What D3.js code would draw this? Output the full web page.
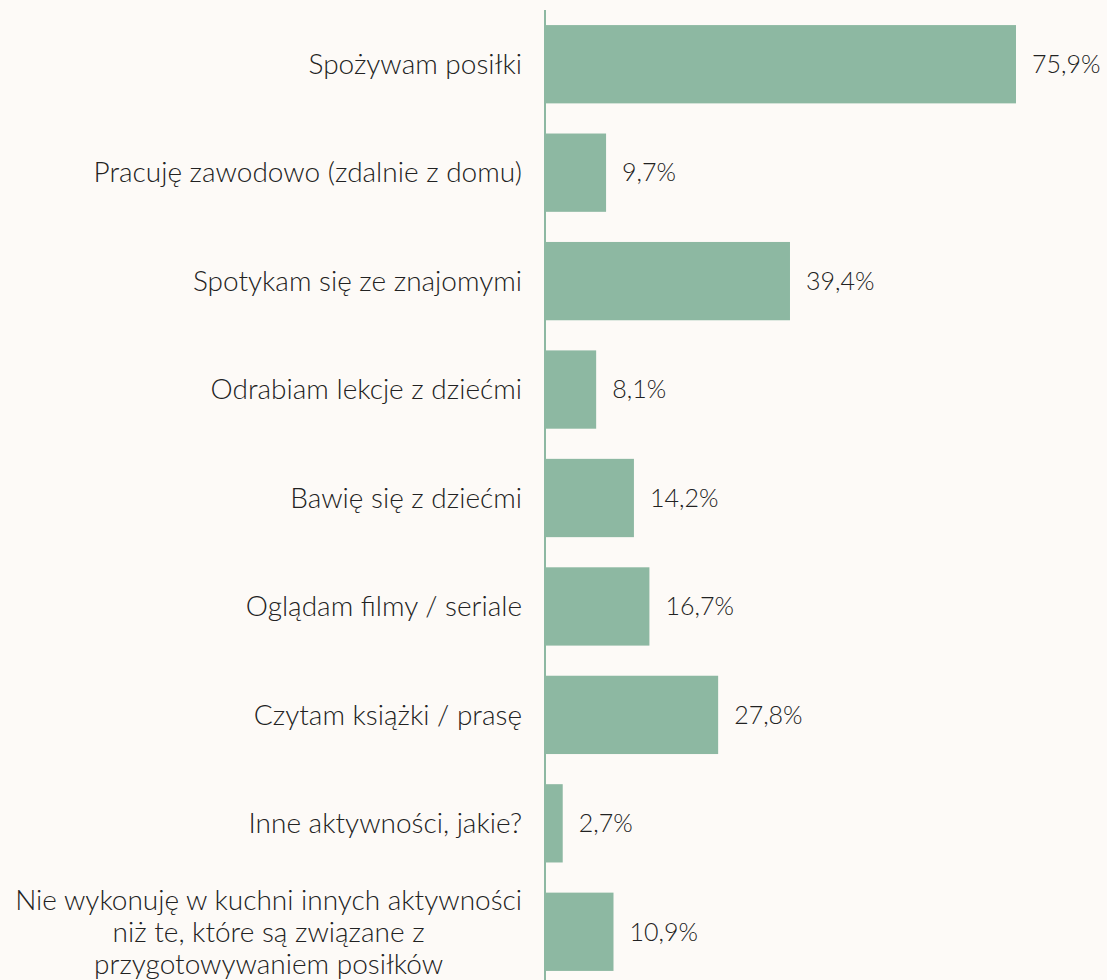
<!DOCTYPE html>
<html>
<head>
<meta charset="utf-8">
<script src="https://cdn.jsdelivr.net/npm/d3@7"></script>
<style>
  html, body { margin: 0; padding: 0; background: #fdfaf7; }
  svg { display: block; }
</style>
</head>
<body>
<div id="chart"></div>
<script>
// data
const categories = [
  ['Spożywam posiłki'],
  ['Pracuję zawodowo (zdalnie z domu)'],
  ['Spotykam się ze znajomymi'],
  ['Odrabiam lekcje z dziećmi'],
  ['Bawię się z dziećmi'],
  ['Oglądam filmy / seriale'],
  ['Czytam książki / prasę'],
  ['Inne aktywności, jakie?'],
  ['Nie wykonuję w kuchni innych aktywności', 'niż te, które są związane z', 'przygotowywaniem posiłków']
];
const values = [75.9, 9.7, 39.4, 8.1, 14.2, 16.7, 27.8, 2.7, 10.9];
const valueLabels = ['75,9%', '9,7%', '39,4%', '8,1%', '14,2%', '16,7%', '27,8%', '2,7%', '10,9%'];

const width = 1107, height = 980;
const axisX = 546;
const labelRight = 522;

const svg = d3.select('#chart')
  .append('svg')
  .attr('width', width)
  .attr('height', height)
  .style('background', '#fdfaf7');

const x = d3.scaleLinear()
  .domain([0, 75.9])
  .range([axisX, 1016]);

const y = d3.scaleBand()
  .domain(d3.range(categories.length))
  .range([10, 986])
  .paddingInner(0.278)
  .paddingOuter(0.139);

// bars
svg.selectAll('rect.bar')
  .data(values)
  .enter()
  .append('rect')
  .attr('class', 'bar')
  .attr('x', x(0))
  .attr('y', (d, i) => y(i))
  .attr('width', d => x(d) - x(0))
  .attr('height', y.bandwidth())
  .attr('fill', '#8db8a2');

// axis line
svg.append('line')
  .attr('x1', axisX - 1).attr('x2', axisX - 1)
  .attr('y1', 10).attr('y2', height)
  .attr('stroke', '#8db8a2')
  .attr('stroke-width', 2);

const font = 'Lato, "Open Sans", sans-serif';

// category labels (multi-line ones are centred on their widest line)
const lineH = 32;
svg.selectAll('text.cat')
  .data(categories)
  .enter()
  .append('text')
  .attr('class', 'cat')
  .attr('font-family', font)
  .attr('font-size', '28px')
  .attr('font-weight', 300)
  .attr('fill', '#222')
  .each(function (d, i) {
    const el = d3.select(this);
    const cy = y(i) + y.bandwidth() / 2;
    const start = cy - (d.length - 1) * lineH / 2;
    const spans = el.selectAll('tspan')
      .data(d)
      .enter()
      .append('tspan')
      .attr('y', (t, j) => start + j * lineH)
      .attr('dy', '0.35em')
      .text(t => t);
    if (d.length === 1) {
      el.attr('text-anchor', 'end');
      spans.attr('x', labelRight);
    } else {
      let maxW = 0;
      spans.each(function () { maxW = Math.max(maxW, this.getComputedTextLength()); });
      el.attr('text-anchor', 'middle');
      spans.attr('x', labelRight - maxW / 2);
    }
  });

// value labels
svg.selectAll('text.val')
  .data(values)
  .enter()
  .append('text')
  .attr('class', 'val')
  .attr('x', d => x(d) + 16)
  .attr('y', (d, i) => y(i) + y.bandwidth() / 2)
  .attr('dy', '0.35em')
  .attr('font-family', font)
  .attr('font-size', '25px')
  .attr('font-weight', 300)
  .attr('fill', '#222')
  .text((d, i) => valueLabels[i]);
</script>
</body>
</html>
